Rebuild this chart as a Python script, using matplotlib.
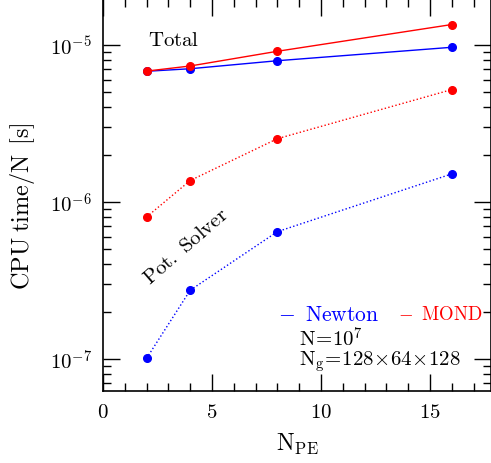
import numpy as np
import matplotlib.pyplot as plt
from matplotlib.ticker import LogLocator, MultipleLocator, NullFormatter

plt.rcParams['mathtext.fontset'] = 'cm'
plt.rcParams['font.family'] = 'serif'
plt.rcParams['font.serif'] = ['DejaVu Serif']

# number of processing elements
npe = [2, 4, 8, 16]

# CPU time per particle [s]
total_newton = [6.8e-6, 7.06e-6, 7.94e-6, 9.67e-6]
total_mond = [6.82e-6, 7.35e-6, 9.12e-6, 1.35e-5]
pot_newton = [1.01e-7, 2.74e-7, 6.47e-7, 1.51e-6]
pot_mond = [8.03e-7, 1.37e-6, 2.53e-6, 5.2e-6]

fig = plt.figure(figsize=(4.91, 4.64), dpi=100)
ax = fig.add_axes([103 / 491, 72 / 464, 388 / 491, 392 / 464])

ax.plot(npe, total_newton, '-', color='blue', lw=1, marker='o', ms=5.5, clip_on=False)
ax.plot(npe, total_mond, '-', color='red', lw=1, marker='o', ms=5.5, clip_on=False)
ax.plot(npe, pot_newton, ':', color='blue', lw=1, marker='o', ms=5.5, clip_on=False)
ax.plot(npe, pot_mond, ':', color='red', lw=1, marker='o', ms=5.5, clip_on=False)

ax.set_yscale('log')
ax.set_xlim(0, 17.8)
ax.set_ylim(10 ** (-7.204), 10 ** (-4.707))

ax.xaxis.set_major_locator(MultipleLocator(5))
ax.xaxis.set_minor_locator(MultipleLocator(1))
ax.yaxis.set_minor_locator(LogLocator(base=10, subs=np.arange(2, 10), numticks=10))
ax.yaxis.set_minor_formatter(NullFormatter())
ax.set_xticks([0, 5, 10, 15])
ax.set_xticklabels([r'$0$', r'$5$', r'$10$', r'$15$'])
ax.set_yticks([1e-7, 1e-6, 1e-5])
ax.set_yticklabels([r'$10^{-7}$', r'$10^{-6}$', r'$10^{-5}$'])

ax.tick_params(which='both', direction='in', top=True, right=True, labelsize=15, width=1)
ax.tick_params(which='major', length=12, pad=8)
ax.tick_params(which='minor', length=6)
for s in ax.spines.values():
    s.set_linewidth(1.2)

ax.set_xlabel(r'$\mathrm{N_{PE}}$', fontsize=17, labelpad=7)
ax.set_ylabel(r'$\mathrm{CPU\;time/N\;\,[s]}$', fontsize=17.5)
ax.yaxis.set_label_coords(-0.17, 0.475)

ax.text(2.05, 1.09e-5, r'$\mathrm{Total}$', fontsize=15, va='center', ha='left')
ax.text(3.8, 5.3e-7, r'$\mathrm{Pot.\ Solver}$', fontsize=15, va='center', ha='center', rotation=41)

# legend entries
ax.text(8.05, 1.94e-7, r'$-\;\;\mathrm{Newton}$', fontsize=15.5, color='blue', va='center', ha='left')
ax.text(13.55, 1.94e-7, r'$-\;\;\mathrm{MOND}$', fontsize=13.5, color='red', va='center', ha='left')
ax.text(9.0, 1.36e-7, r'$\mathrm{N}\!=\!10^7$', fontsize=15, va='center', ha='left')
ax.text(9.0, 9.7e-8, r'$\mathrm{N_g}\!=\!128\!\times\!64\!\times\!128$', fontsize=15, va='center', ha='left')

fig.savefig('out.png', dpi=100)
